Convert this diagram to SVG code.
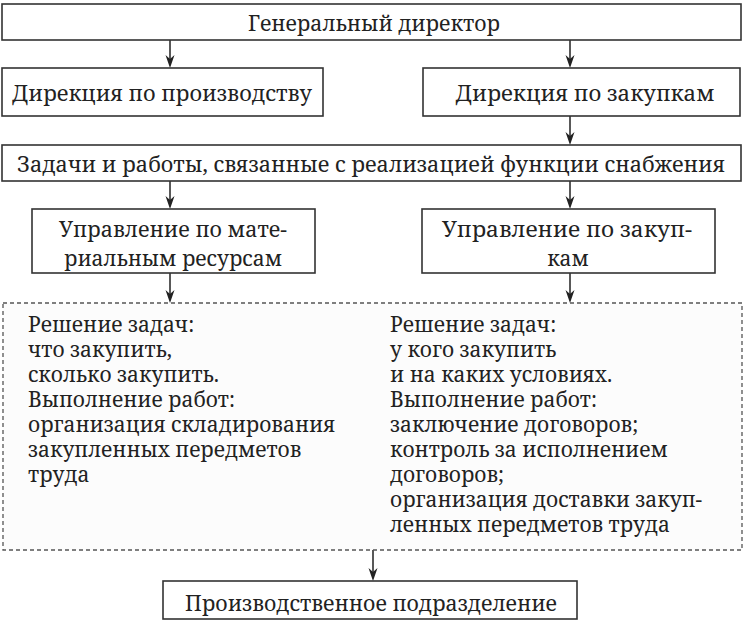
<svg xmlns="http://www.w3.org/2000/svg" width="744" height="624" viewBox="0 0 744 624">
<defs>
<path id="ah" d="M-4.5,-13 L0,0 L4.5,-13 L0,-9 Z" fill="#222"/>
<style>
.box{fill:#fff;stroke:#333;stroke-width:1.6}
.dash{fill:#fcfcfc;stroke:#555;stroke-width:1.3;stroke-dasharray:4 3}
.t{font-family:"Noto Serif","DejaVu Serif",serif;font-size:21px;fill:#222}
.c{text-anchor:middle}
.con{stroke:#222;stroke-width:1.5;fill:none}
</style>
</defs>
<rect width="744" height="624" fill="#fff"/>
<g id="connectors">
<line class="con" x1="170" y1="40" x2="170" y2="60"/><use href="#ah" x="170" y="68"/>
<line class="con" x1="570" y1="40" x2="570" y2="60"/><use href="#ah" x="570" y="68"/>
<line class="con" x1="570" y1="116" x2="570" y2="137"/><use href="#ah" x="570" y="145"/>
<line class="con" x1="170" y1="181" x2="170" y2="201"/><use href="#ah" x="170" y="209"/>
<line class="con" x1="570" y1="181" x2="570" y2="201"/><use href="#ah" x="570" y="209"/>
<line class="con" x1="170" y1="273" x2="170" y2="295"/><use href="#ah" x="170" y="303"/>
<line class="con" x1="570" y1="273" x2="570" y2="295"/><use href="#ah" x="570" y="303"/>
<line class="con" x1="373" y1="550" x2="373" y2="573"/><use href="#ah" x="373" y="581"/>
</g>
<g id="gen-director">
<rect class="box" x="2" y="4" width="739" height="36"/>
<text class="t c" x="374" y="31" textLength="252" lengthAdjust="spacingAndGlyphs">Генеральный директор</text>
</g>
<g id="dir-production">
<rect class="box" x="2" y="68" width="321" height="48"/>
<text class="t c" x="162" y="101" textLength="300" lengthAdjust="spacingAndGlyphs">Дирекция по производству</text>
</g>
<g id="dir-purchasing">
<rect class="box" x="423" y="68" width="317" height="48"/>
<text class="t c" x="585" y="101" textLength="259" lengthAdjust="spacingAndGlyphs">Дирекция по закупкам</text>
</g>
<g id="tasks">
<rect class="box" x="2" y="145" width="739" height="36"/>
<text class="t c" x="371" y="172" textLength="708" lengthAdjust="spacingAndGlyphs">Задачи и работы, связанные с реализацией функции снабжения</text>
</g>
<g id="mgmt-material">
<rect class="box" x="32" y="209" width="283" height="64"/>
<text class="t c" x="173" y="237" textLength="228" lengthAdjust="spacingAndGlyphs">Управление по мате-</text>
<text class="t c" x="173" y="266" textLength="218" lengthAdjust="spacingAndGlyphs">риальным ресурсам</text>
</g>
<g id="mgmt-purchasing">
<rect class="box" x="422" y="209" width="293" height="64"/>
<text class="t c" x="567" y="237" textLength="250" lengthAdjust="spacingAndGlyphs">Управление по закуп-</text>
<text class="t c" x="568" y="266">кам</text>
</g>
<g id="functions">
<rect class="dash" x="3" y="303" width="739" height="247"/>
<text class="t" x="28" y="332">Решение задач:</text>
<text class="t" x="28" y="357">что закупить,</text>
<text class="t" x="28" y="382">сколько закупить.</text>
<text class="t" x="28" y="407">Выполнение работ:</text>
<text class="t" x="28" y="432">организация складирования</text>
<text class="t" x="28" y="457">закупленных передметов</text>
<text class="t" x="28" y="482">труда</text>
<text class="t" x="390" y="332">Решение задач:</text>
<text class="t" x="390" y="357">у кого закупить</text>
<text class="t" x="390" y="382">и на каких условиях.</text>
<text class="t" x="390" y="407">Выполнение работ:</text>
<text class="t" x="390" y="432">заключение договоров;</text>
<text class="t" x="390" y="457">контроль за исполнением</text>
<text class="t" x="390" y="482">договоров;</text>
<text class="t" x="390" y="507">организация доставки закуп-</text>
<text class="t" x="390" y="532">ленных передметов труда</text>
</g>
<g id="production-unit">
<rect class="box" x="163" y="581" width="414" height="38"/>
<text class="t c" x="371" y="611" textLength="372" lengthAdjust="spacingAndGlyphs">Производственное подразделение</text>
</g>
</svg>
